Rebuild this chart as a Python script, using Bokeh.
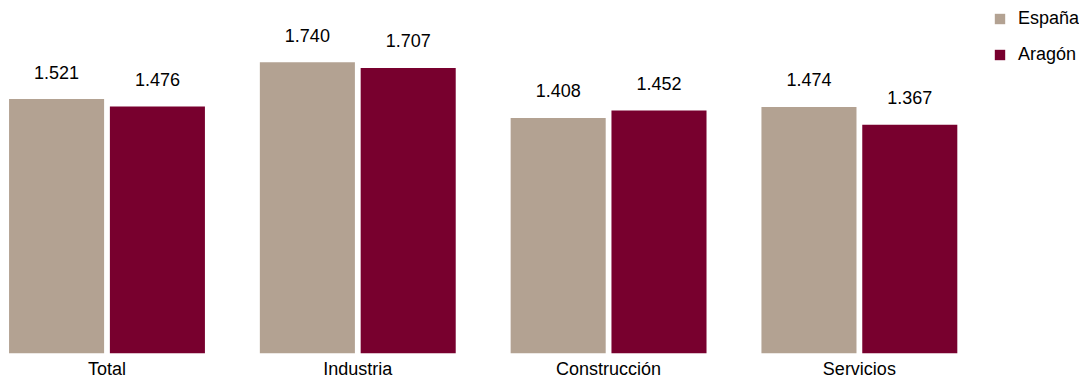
from bokeh.plotting import figure
from bokeh.models import ColumnDataSource, Range1d, FixedTicker, Legend, LegendItem
from bokeh.embed import file_html
from bokeh.resources import INLINE
from bokeh.core.properties import value

categories = ["Total", "Industria", "Construcción", "Servicios"]
espana = [1521, 1740, 1408, 1474]
aragon = [1476, 1707, 1452, 1367]
series_names = ["España", "Aragón"]
colors = ["#B3A292", "#78002E"]

FONT = "Liberation Sans"
FS = "18px"

def fmt(v):
    return f"{v:,}".replace(",", ".")

idx = list(range(len(categories)))
off = 0.201
bw = 0.379

src_e = ColumnDataSource(dict(x=[i - off for i in idx], top=espana, lab=[fmt(v) for v in espana]))
src_a = ColumnDataSource(dict(x=[i + off for i in idx], top=aragon, lab=[fmt(v) for v in aragon]))

p = figure(width=1079, height=381, output_backend="svg", toolbar_location=None,
           x_range=Range1d(-0.3927, 3.8777), y_range=Range1d(0, 2062),
           min_border_left=8, min_border_right=0, min_border_top=8, min_border_bottom=28)
p.outline_line_color = None
p.xgrid.visible = False
p.ygrid.visible = False
p.yaxis.visible = False
p.background_fill_color = "white"
p.border_fill_color = "white"

r1 = p.vbar(x="x", top="top", bottom=0, width=bw, source=src_e, fill_color=colors[0], line_color=None)
r2 = p.vbar(x="x", top="top", bottom=0, width=bw, source=src_a, fill_color=colors[1], line_color=None)

for s in (src_e, src_a):
    p.text(x="x", y="top", text="lab", source=s, text_align="center", text_baseline="middle",
           y_offset=-27, text_font=value(FONT), text_font_size=FS, text_color="#000000")

ax = p.xaxis[0]
ax.ticker = FixedTicker(ticks=idx)
ax.major_label_overrides = {i: c for i, c in enumerate(categories)}
ax.axis_line_color = None
ax.major_tick_line_color = None
ax.minor_tick_line_color = None
ax.major_tick_out = 0
ax.major_tick_in = 0
ax.major_label_standoff = 5
ax.major_label_text_font = FONT
ax.major_label_text_font_size = FS
ax.major_label_text_color = "#000000"

legend = Legend(items=[LegendItem(label=series_names[0], renderers=[r1]),
                       LegendItem(label=series_names[1], renderers=[r2])],
                location=(985, 288))
legend.glyph_width = 13
legend.glyph_height = 13
legend.label_height = 20
legend.label_standoff = 12
legend.spacing = 15
legend.padding = 0
legend.margin = 0
legend.border_line_color = None
legend.background_fill_alpha = 0
legend.label_text_font = FONT
legend.label_text_font_size = FS
legend.label_text_color = "#000000"
p.add_layout(legend, "center")

open("out.html", "w").write(file_html(p, INLINE))
